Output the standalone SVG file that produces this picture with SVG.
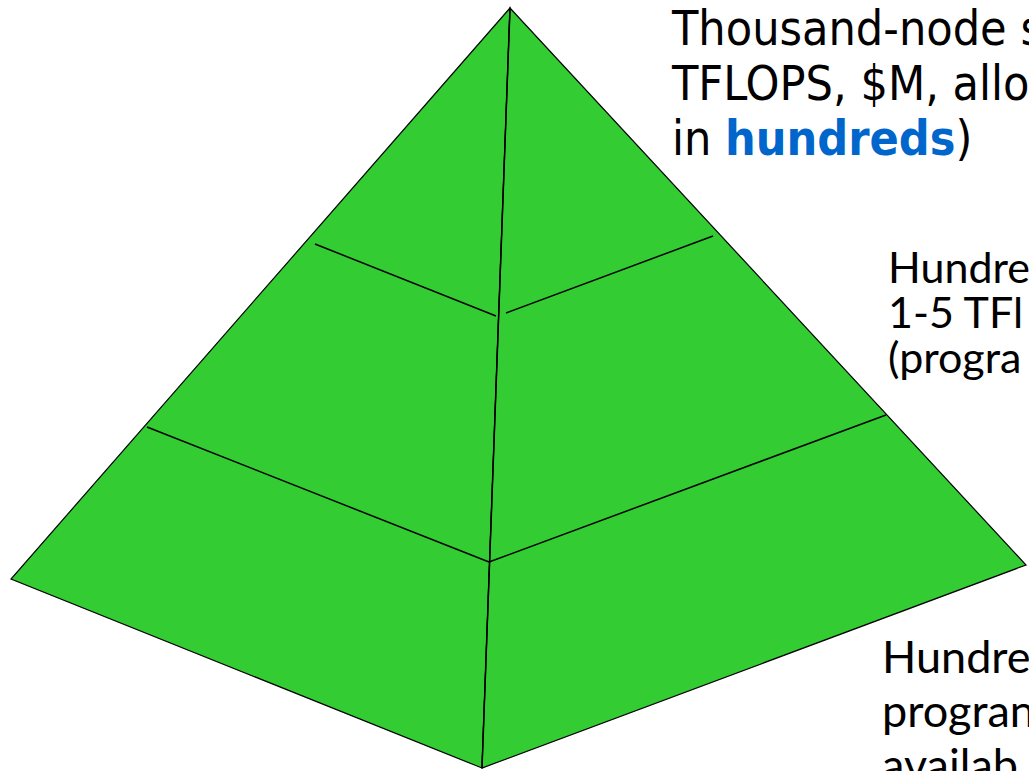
<svg xmlns="http://www.w3.org/2000/svg" width="1029" height="771" viewBox="0 0 1029 771">
  <style>
    .face { fill: #33CC33; stroke: #000000; stroke-width: 1.2; stroke-linejoin: miter; }
    .edge { fill: none; stroke: #000000; stroke-width: 1.5; }
    .t1 { font-family: "DejaVu Sans Condensed", "DejaVu Sans", sans-serif; font-stretch: condensed; font-size: 48px; fill: #000000; }
    .t2 { font-family: Lato, "Open Sans", sans-serif; font-size: 43px; fill: #000000; }
    .t3 { font-family: Lato, "Open Sans", sans-serif; font-size: 45px; fill: #000000; }
    .hl { fill: #0066CC; font-weight: bold; }
  </style>
  <rect x="0" y="0" width="1029" height="771" fill="#ffffff"/>
  <g id="pyramid">
    <polygon class="face" points="510,8 11,579 482,768"/>
    <polygon class="face" points="510,8 482,768 1026,565"/>
  </g>
  <g id="connectors">
    <line class="edge" x1="510" y1="8" x2="482" y2="768"/>
    <line class="edge" x1="315" y1="244" x2="496" y2="316"/>
    <line class="edge" x1="506" y1="313" x2="713" y2="236"/>
    <line class="edge" x1="147" y1="427" x2="489" y2="562"/>
    <line class="edge" x1="489" y1="562" x2="886" y2="415"/>
  </g>
  <g id="label-top">
    <text class="t1" x="672" y="45">Thousand-node s</text>
    <text class="t1" x="672" y="100">TFLOPS, $M, allo</text>
    <text class="t1" x="672" y="155">in <tspan class="hl">hundreds</tspan>)</text>
  </g>
  <g id="label-middle">
    <text class="t2" x="888" y="283">Hundre</text>
    <text class="t2" x="888" y="328">1-5 TFl</text>
    <text class="t2" x="888" y="373">(progra</text>
  </g>
  <g id="label-bottom">
    <text class="t3" x="882" y="673">Hundre</text>
    <text class="t3" x="882" y="727">progran</text>
    <text class="t3" x="882" y="781">availab</text>
  </g>
</svg>
